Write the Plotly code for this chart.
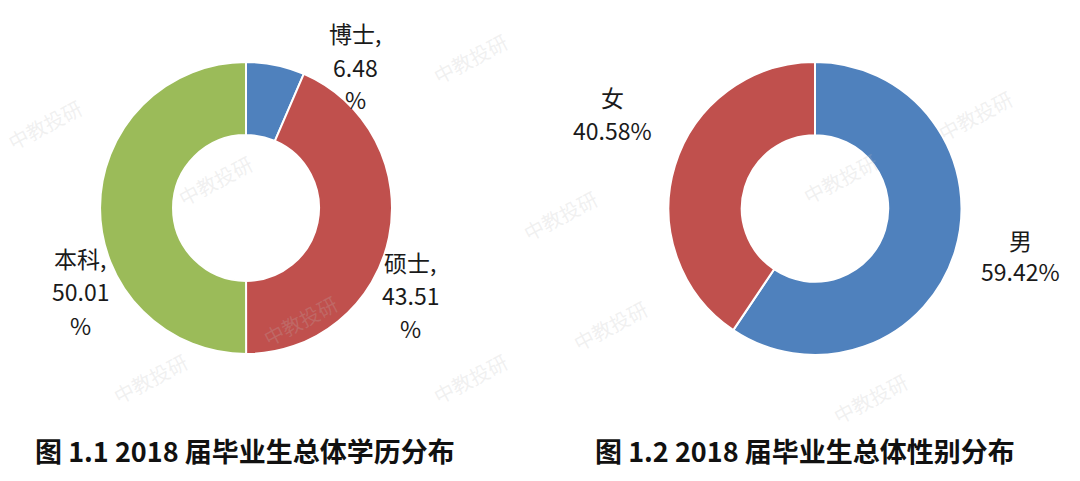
import plotly.graph_objects as go

# Data
edu_labels = ["博士", "硕士", "本科"]
edu_values = [6.48, 43.51, 50.01]
gender_labels = ["男", "女"]
gender_values = [59.42, 40.58]
titles = ["图 1.1 2018 届毕业生总体学历分布", "图 1.2 2018 届毕业生总体性别分布"]

BLUE = "#4F81BD"
RED = "#C0504D"
GREEN = "#9BBB59"

W, H = 1080, 481

def px(x):
    return x / W

def py(y):
    return 1 - y / H

fig = go.Figure()
fig.add_trace(go.Pie(
    labels=edu_labels, values=edu_values, hole=0.5, sort=False,
    direction="clockwise", rotation=0,
    marker=dict(colors=[BLUE, RED, GREEN], line=dict(color="white", width=2)),
    textinfo="none", hoverinfo="label+percent", showlegend=False,
    domain=dict(x=[px(100), px(392)], y=[py(354), py(62)]),
))
fig.add_trace(go.Pie(
    labels=gender_labels, values=gender_values, hole=0.5, sort=False,
    direction="clockwise", rotation=0,
    marker=dict(colors=[BLUE, RED], line=dict(color="white", width=2)),
    textinfo="none", hoverinfo="label+percent", showlegend=False,
    domain=dict(x=[px(668), px(962)], y=[py(355), py(62)]),
))

FONT = "Noto Sans CJK SC, Noto Sans, sans-serif"
annotations = []

# faint watermark text
wm = [(470, 58), (45, 125), (215, 180), (560, 215), (840, 178), (300, 320),
      (610, 325), (150, 378), (470, 378), (870, 398), (975, 115)]
for (x, y) in wm:
    annotations.append(dict(x=px(x), y=py(y), xref="paper", yref="paper", text="中教投研",
                            showarrow=False, textangle=-28, xanchor="center", yanchor="middle",
                            font=dict(family=FONT, size=20, color="rgba(190,190,190,0.22)")))

def label(x, ys, lines):
    for y, t in zip(ys, lines):
        annotations.append(dict(x=px(x), y=py(y), xref="paper", yref="paper", text=t,
                                showarrow=False, align="center", xanchor="center",
                                yanchor="middle", borderpad=0,
                                font=dict(family=FONT, size=23, color="#1a1a1a")))

label(355, [33, 67, 99], [f"{edu_labels[0]},", f"{edu_values[0]:.2f}", "%"])
label(410, [262, 295, 328], [f"{edu_labels[1]},", f"{edu_values[1]:.2f}", "%"])
label(80, [258, 291, 325], [f"{edu_labels[2]},", f"{edu_values[2]:.2f}", "%"])
label(613, [97, 130], [gender_labels[1], f"{gender_values[1]:.2f}%"])
label(1020, [240, 271], [gender_labels[0], f"{gender_values[0]:.2f}%"])

for (x, t) in [(245, titles[0]), (805, titles[1])]:
    annotations.append(dict(x=px(x), y=py(450), xref="paper", yref="paper",
                            text=f"<b>{t}</b>", showarrow=False,
                            xanchor="center", yanchor="middle",
                            font=dict(family=FONT, size=27, color="#111111")))

fig.update_layout(
    width=W, height=H,
    margin=dict(l=0, r=0, t=0, b=0),
    paper_bgcolor="white", plot_bgcolor="white",
    annotations=annotations,
)

fig.write_html("out.html", config={"displayModeBar": False},
               post_script="document.body.style.margin='0';")
